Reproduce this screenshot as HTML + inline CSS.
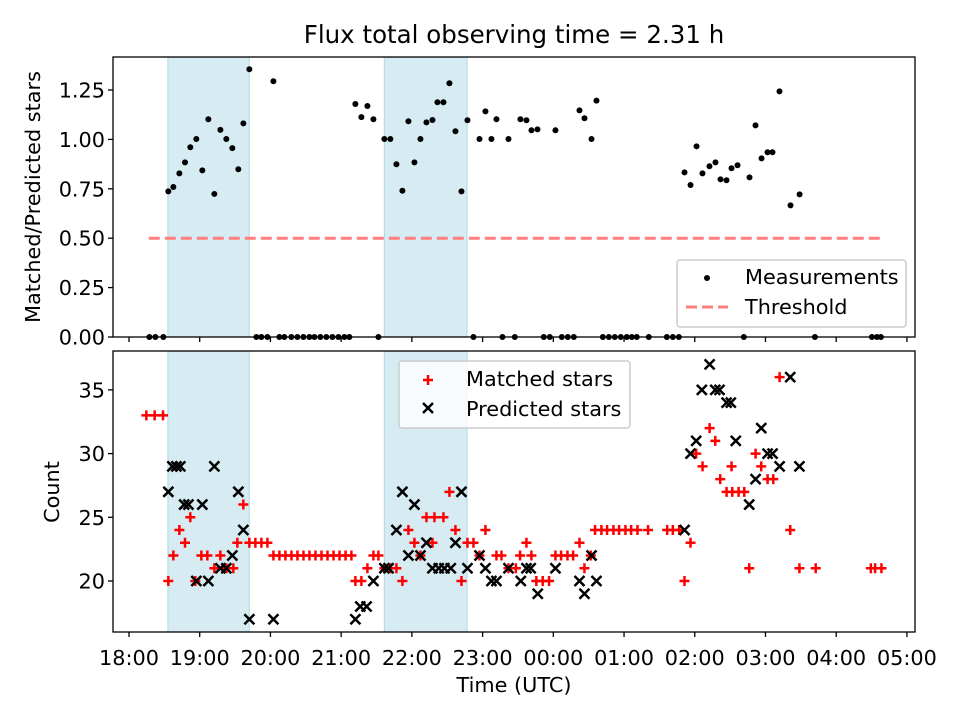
<!DOCTYPE html>
<html><head><meta charset="utf-8"><style>
body{margin:0;background:#fff}
svg{font-family:"DejaVu Sans","Liberation Sans",sans-serif}
</style></head><body>
<svg id="chart" width="960" height="720" viewBox="0 0 960 720" xmlns="http://www.w3.org/2000/svg">
<rect width="960" height="720" fill="#fff"/>
<text x="514" y="43" font-size="24.5" text-anchor="middle">Flux total observing time = 2.31 h</text>
<g id="topPanel"></g>
<g id="botPanel"></g>
<text transform="translate(40,197) rotate(-90)" font-size="20.8" text-anchor="middle">Matched/Predicted stars</text>
<text transform="translate(59,492) rotate(-90)" font-size="20.8" text-anchor="middle">Count</text>
<text x="514" y="692" font-size="20.8" text-anchor="middle">Time (UTC)</text>
<g>
<rect x="677" y="260" width="229" height="67" rx="3" fill="#fff" fill-opacity="0.8" stroke="#ccc" stroke-width="1.5"/>
<circle cx="707" cy="278" r="3" fill="#000"/>
<text x="745" y="284" font-size="20.8">Measurements</text>
<line x1="686" y1="307" x2="728" y2="307" stroke="#ff7f7f" stroke-width="3" stroke-dasharray="11,5"/>
<text x="745" y="314" font-size="20.8">Threshold</text>
</g>
<g>
<rect x="399" y="361" width="231" height="67" rx="3" fill="#fff" fill-opacity="0.8" stroke="#ccc" stroke-width="1.5"/>
<path d="M423,380h10M428,375v10" stroke="red" stroke-width="2.5"/>
<path d="M423,403l10,10M433,403l-10,10" stroke="#000" stroke-width="2.5"/>
<text x="466" y="386" font-size="20.8">Matched stars</text>
<text x="466" y="416" font-size="20.8">Predicted stars</text>
</g>
</svg>
<script>
const xTicks=[18,19,20,21,22,23,24,25,26,27,28,29];
const xTickLabels=["18:00","19:00","20:00","21:00","22:00","23:00","00:00","01:00","02:00","03:00","04:00","05:00"];
const topTicks=[0,0.25,0.5,0.75,1.0,1.25];
const topTickLabels=["0.00","0.25","0.50","0.75","1.00","1.25"];
const botTicks=[20,25,30,35];
const bands=[[18.55,19.70],[21.61,22.78]];
const threshold=0.5, thrStart=18.28, thrEnd=28.62;
const measT=[18.556,18.627,18.712,18.792,18.867,18.952,19.037,19.122,19.207,19.292,19.376,19.461,19.546,19.617,19.702,20.042,21.201,21.286,21.371,21.456,21.611,21.696,21.781,21.866,21.951,22.036,22.121,22.206,22.291,22.361,22.446,22.531,22.616,22.701,22.786,22.956,23.04,23.125,23.196,23.366,23.535,23.62,23.691,23.776,24.03,24.37,24.441,24.54,24.61,25.855,25.94,26.025,26.109,26.208,26.293,26.364,26.449,26.52,26.605,26.774,26.859,26.944,27.029,27.099,27.198,27.354,27.482];
const measV=[0.737,0.759,0.828,0.884,0.96,1.002,0.843,1.102,0.724,1.048,1.002,0.956,0.849,1.081,1.355,1.294,1.179,1.113,1.169,1.102,1.002,1.002,0.874,0.74,1.092,0.884,1.002,1.086,1.098,1.188,1.188,1.284,1.041,0.737,1.097,1.002,1.142,1.002,1.102,1.002,1.102,1.097,1.046,1.051,1.046,1.147,1.107,1.002,1.196,0.833,0.769,0.965,0.828,0.864,0.884,0.798,0.793,0.854,0.869,0.808,1.071,0.904,0.935,0.935,1.243,0.666,0.722];
const zeroT=[18.288,18.373,18.486,19.801,19.872,19.957,20.126,20.197,20.296,20.381,20.466,20.551,20.622,20.706,20.791,20.876,20.961,21.046,21.116,21.527,22.871,23.281,23.455,23.865,23.95,24.12,24.205,24.29,24.7,24.785,24.869,24.954,25.039,25.11,25.18,25.35,25.605,25.69,25.775,26.694,27.699,28.505,28.576,28.632];
const matchT=[18.245,18.363,18.481,18.556,18.627,18.712,18.792,18.867,18.938,19.023,19.108,19.207,19.292,19.376,19.475,19.532,19.617,19.702,19.787,19.872,19.957,20.042,20.127,20.212,20.297,20.382,20.467,20.552,20.637,20.722,20.807,20.892,20.977,21.062,21.145,21.201,21.286,21.371,21.456,21.527,21.611,21.696,21.781,21.866,21.951,22.036,22.121,22.206,22.319,22.446,22.291,22.531,22.616,22.701,22.786,22.871,22.956,23.04,23.196,23.267,23.366,23.47,23.53,23.62,23.69,23.76,23.85,23.94,24.03,24.11,24.2,24.28,24.37,24.44,24.53,24.59,24.68,24.76,24.85,24.93,25.02,25.1,25.19,25.34,25.61,25.69,25.78,25.855,25.94,26.02,26.11,26.21,26.29,26.36,26.45,26.53,26.62,26.7,26.52,26.77,26.86,26.94,27.03,27.11,27.2,27.35,27.48,27.71,28.49,28.55,28.64];
const matchC=[33,33,33,20,22,24,23,25,20,22,22,21,22,21,21,23,26,23,23,23,23,22,22,22,22,22,22,22,22,22,22,22,22,22,22,20,20,21,22,22,21,21,21,20,24,23,22,25,25,25,23,27,24,20,23,23,22,24,22,22,21,21,22,23,22,20,20,20,22,22,22,22,23,21,22,24,24,24,24,24,24,24,24,24,24,24,24,20,23,30,29,32,31,28,27,27,27,27,29,21,30,29,28,28,36,24,21,21,21,21,21];
const predT=[18.556,18.613,18.67,18.726,19.207,18.78,18.84,19.037,18.952,19.122,19.292,19.376,19.461,19.546,19.617,19.702,20.042,21.201,21.27,21.36,21.456,21.611,21.67,21.781,21.866,21.951,22.036,22.121,22.206,22.29,22.38,22.46,22.55,22.616,22.701,22.786,22.956,23.04,23.125,23.196,23.366,23.54,23.62,23.68,23.78,24.03,24.37,24.44,24.54,24.61,25.855,25.94,26.02,26.1,26.21,26.29,26.35,26.45,26.51,26.58,26.77,26.86,26.94,27.03,27.1,27.2,27.35,27.48];
const predC=[27,29,29,29,29,26,26,26,20,20,21,21,22,27,24,17,17,17,18,18,20,21,21,24,27,22,26,22,23,21,21,21,21,23,27,21,22,21,20,20,21,20,21,21,19,21,20,19,22,20,24,30,31,35,37,35,35,34,34,31,26,28,32,30,30,29,36,29];

const NS="http://www.w3.org/2000/svg";
const L=113,R=915,T1=57,B1=337,T2=351,B2=632;
const xs=h=>129+(h-18)*70.72;
const y1=v=>337-v*197.6;
const y2=c=>581-(c-20)*12.74;
function mk(p,tag,at){const e=document.createElementNS(NS,tag);for(const k in at)e.setAttribute(k,at[k]);p.appendChild(e);return e;}
const topG=document.getElementById('topPanel'),botG=document.getElementById('botPanel');
[[topG,T1,B1],[botG,T2,B2]].forEach(([g,t,b],pi)=>{
 bands.forEach(bd=>{const r=mk(g,'rect',{x:xs(bd[0]),y:t,width:xs(bd[1])-xs(bd[0]),height:b-t,fill:'#add8e6','fill-opacity':0.5,stroke:'#add8e6'});
 
 });
 xTicks.forEach((h,i)=>{mk(g,'line',{x1:xs(h),x2:xs(h),y1:b,y2:b+5,stroke:'#000','stroke-width':1.3});
  if(pi===1){const tx=mk(g,'text',{x:xs(h),y:665,'font-size':20.8,'text-anchor':'middle'});tx.textContent=xTickLabels[i];
  
  }});
});
topTicks.forEach((v,i)=>{mk(topG,'line',{x1:L-5,x2:L,y1:y1(v),y2:y1(v),stroke:'#000','stroke-width':1.3});
 const t=mk(topG,'text',{x:L-8,y:y1(v)+7.5,'font-size':20.8,'text-anchor':'end'});t.textContent=topTickLabels[i];
 
 });
botTicks.forEach(c=>{mk(botG,'line',{x1:L-5,x2:L,y1:y2(c),y2:y2(c),stroke:'#000','stroke-width':1.3});
 const t=mk(botG,'text',{x:L-8,y:y2(c)+7.5,'font-size':20.8,'text-anchor':'end'});t.textContent=c;
 
 });
const th=mk(topG,'line',{x1:xs(thrStart),x2:xs(thrEnd),y1:y1(threshold),y2:y1(threshold),stroke:'#ff7f7f','stroke-width':3,'stroke-dasharray':'11,5'});


measT.forEach((h,i)=>{const c=mk(topG,'circle',{cx:xs(h),cy:y1(measV[i]),r:3,fill:'#000'});
 
 });
zeroT.forEach(h=>{const c=mk(topG,'circle',{cx:xs(h),cy:y1(0),r:3,fill:'#000'});
 
 });
matchT.forEach((h,i)=>{const x=xs(h),y=y2(matchC[i]);const p=mk(botG,'path',{d:`M${x-5},${y}h10M${x},${y-5}v10`,stroke:'red','stroke-width':2.5});
 
 });
predT.forEach((h,i)=>{const x=xs(h),y=y2(predC[i]);const p=mk(botG,'path',{d:`M${x-5},${y-5}l10,10M${x+5},${y-5}l-10,10`,stroke:'#000','stroke-width':2.5});
 
 });
[[topG,T1,B1],[botG,T2,B2]].forEach(([g,t,b])=>{const r=mk(g,'rect',{x:L,y:t,width:R-L,height:b-t,fill:'none',stroke:'#000','stroke-width':1.3});
 
 });
</script>
</body></html>
